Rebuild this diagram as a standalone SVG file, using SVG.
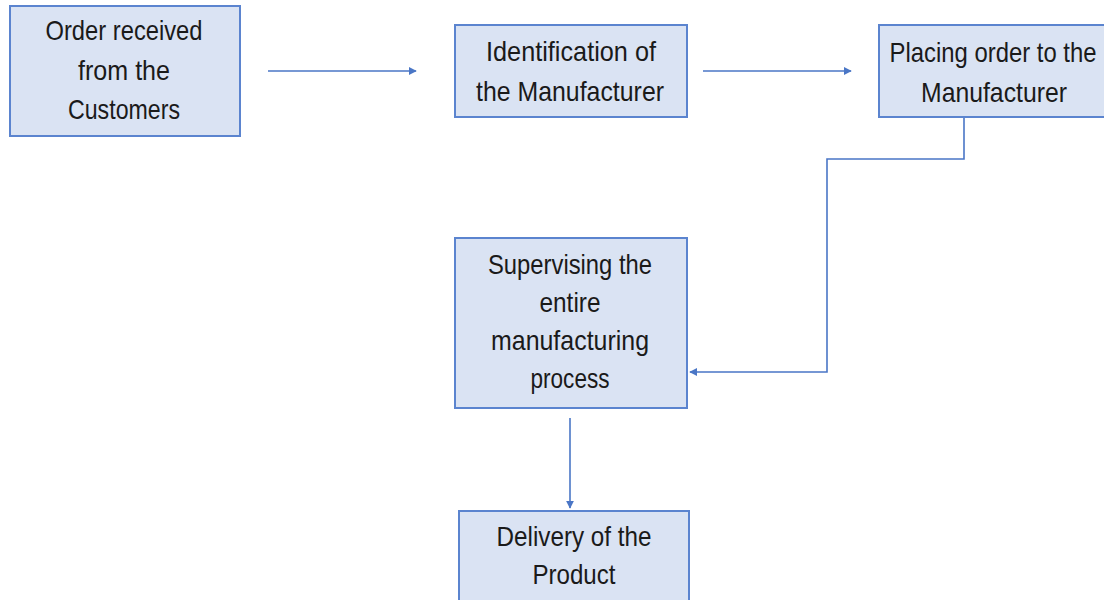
<svg xmlns="http://www.w3.org/2000/svg" width="1104" height="600" viewBox="0 0 1104 600">
<style>
.box{fill:#dae3f3;stroke:#5b84cf;stroke-width:2}
.t{font-family:"Liberation Sans",Arial,sans-serif;font-size:28px;fill:#1a1a1a;text-anchor:middle}
.c{fill:none;stroke:#4a76c6;stroke-width:1.6}
</style>
<defs>
<marker id="ah" viewBox="0 0 10 10" refX="9" refY="5" markerWidth="8" markerHeight="8" markerUnits="userSpaceOnUse" orient="auto">
<path d="M0,0 L10,5 L0,10 z" fill="#4a76c6"/>
</marker>
</defs>
<rect width="1104" height="600" fill="#ffffff"/>
<g id="connectors">
<line class="c" x1="268" y1="71" x2="416" y2="71" marker-end="url(#ah)"/>
<line class="c" x1="703" y1="71" x2="851" y2="71" marker-end="url(#ah)"/>
<polyline class="c" points="964,117 964,159 827,159 827,372 690,372" marker-end="url(#ah)"/>
<line class="c" x1="570" y1="418" x2="570" y2="508" marker-end="url(#ah)"/>
</g>
<g id="n1">
<rect class="box" x="10" y="6" width="230" height="130"/>
<text class="t" x="124" y="40" textLength="157" lengthAdjust="spacingAndGlyphs">Order received</text>
<text class="t" x="124" y="80" textLength="92" lengthAdjust="spacingAndGlyphs">from the</text>
<text class="t" x="124" y="119" textLength="112" lengthAdjust="spacingAndGlyphs">Customers</text>
</g>
<g id="n2">
<rect class="box" x="455" y="25" width="232" height="92"/>
<text class="t" x="571" y="61" textLength="170" lengthAdjust="spacingAndGlyphs">Identification of</text>
<text class="t" x="570" y="101" textLength="188" lengthAdjust="spacingAndGlyphs">the Manufacturer</text>
</g>
<g id="n3">
<rect class="box" x="879" y="25" width="227" height="92"/>
<text class="t" x="993" y="62" textLength="207" lengthAdjust="spacingAndGlyphs">Placing order to the</text>
<text class="t" x="994" y="102" textLength="146" lengthAdjust="spacingAndGlyphs">Manufacturer</text>
</g>
<g id="n4">
<rect class="box" x="455" y="238" width="232" height="170"/>
<text class="t" x="570" y="274" textLength="164" lengthAdjust="spacingAndGlyphs">Supervising the</text>
<text class="t" x="570" y="312" textLength="61" lengthAdjust="spacingAndGlyphs">entire</text>
<text class="t" x="570" y="350" textLength="158" lengthAdjust="spacingAndGlyphs">manufacturing</text>
<text class="t" x="570" y="388" textLength="79" lengthAdjust="spacingAndGlyphs">process</text>
</g>
<g id="n5">
<rect class="box" x="459" y="511" width="230" height="100"/>
<text class="t" x="574" y="546" textLength="155" lengthAdjust="spacingAndGlyphs">Delivery of the</text>
<text class="t" x="574" y="584" textLength="83" lengthAdjust="spacingAndGlyphs">Product</text>
</g>
</svg>
